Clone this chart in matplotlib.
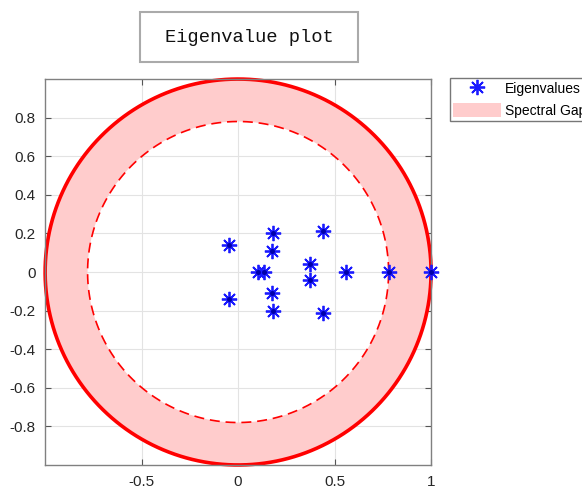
import matplotlib.pyplot as plt
import numpy as np
from matplotlib.patches import Rectangle
from matplotlib.ticker import FuncFormatter

# eigenvalues (real, imag), conjugate pairs listed together
EIG_REAL = [1.0, 0.78, 0.56, 0.375, 0.375, 0.44, 0.44, 0.18, 0.18,
            0.175, 0.175, 0.105, 0.133, -0.045, -0.045]
EIG_IMAG = [0.0, 0.0, 0.0, 0.043, -0.043, 0.21, -0.21, 0.2, -0.2,
            0.107, -0.107, 0.0, 0.0, 0.138, -0.138]

OUTER_RADIUS = 1.0
INNER_RADIUS = 0.78  # second-largest eigenvalue magnitude

X_TICKS = [-0.5, 0, 0.5, 1]
Y_TICKS = [-0.8, -0.6, -0.4, -0.2, 0, 0.2, 0.4, 0.6, 0.8]


def main():
    plt.rcParams["font.family"] = ["Liberation Sans", "DejaVu Sans"]
    fig = plt.figure(figsize=(5.82, 4.91), dpi=100)
    ax = fig.add_axes([0.0756, 0.053, 0.667, 0.786])

    theta = np.linspace(0, 2 * np.pi, 400)
    ox, oy = OUTER_RADIUS * np.cos(theta), OUTER_RADIUS * np.sin(theta)
    ix, iy = INNER_RADIUS * np.cos(theta), INNER_RADIUS * np.sin(theta)

    # annulus between the two circles
    ax.fill(np.concatenate([ox, ix[::-1]]), np.concatenate([oy, iy[::-1]]),
            color="#ffcccc", edgecolor="none", label="Spectral Gap", zorder=1)
    ax.plot(ox, oy, color="#ff0000", linewidth=2.6, zorder=2, clip_on=False)
    ax.plot(ix, iy, color="#ff0000", linewidth=1.2, linestyle=(0, (6, 3.5)), zorder=2)

    ax.plot(EIG_REAL, EIG_IMAG, linestyle="none", marker=(8, 2, 0), markersize=11,
            markeredgewidth=1.3, color="#1a1aff", label="Eigenvalues", zorder=4,
            clip_on=False)
    ax.plot(EIG_REAL, EIG_IMAG, linestyle="none", marker="o", markersize=2.5,
            color="#0000aa", zorder=5, clip_on=False)

    ax.set_xlim(-1, 1)
    ax.set_ylim(-1, 1)
    ax.set_aspect("equal", adjustable="box")
    ax.set_xticks(X_TICKS)
    ax.set_yticks(Y_TICKS)
    fmt = FuncFormatter(lambda v, p: ("%g" % round(v, 2)))
    ax.xaxis.set_major_formatter(fmt)
    ax.yaxis.set_major_formatter(fmt)
    ax.tick_params(direction="in", length=4, color="#555555", labelsize=11,
                   labelcolor="#262626", top=True, right=True, pad=7)
    ax.grid(True, color="#e3e3e3", linewidth=0.8, zorder=0)
    ax.set_axisbelow(True)
    for s in ax.spines.values():
        s.set_color("#808080")
        s.set_linewidth(1.0)

    handles, labels = ax.get_legend_handles_labels()
    order = [labels.index("Eigenvalues"), labels.index("Spectral Gap")]
    fig.legend([handles[i] for i in order], [labels[i] for i in order],
               loc="upper left", bbox_to_anchor=(450 / 582, 1 - 78 / 491),
               fontsize=10, frameon=True, fancybox=False, edgecolor="#555555",
               handlelength=3.4, handleheight=1.1, borderpad=0.25,
               labelspacing=0.55, handletextpad=0.3, borderaxespad=0)

    # boxed title
    fig.patches.append(Rectangle((140 / 582, 1 - 62 / 491), 218 / 582, 50 / 491,
                                 transform=fig.transFigure, facecolor="white",
                                 edgecolor="#aaaaaa", linewidth=1.5))
    fig.text(249 / 582, 1 - 38 / 491, "Eigenvalue plot", ha="center", va="center",
             fontsize=13.5, family=["Liberation Mono", "DejaVu Sans Mono"],
             color="#111111")

    fig.savefig("out.png", dpi=100)


if __name__ == "__main__":
    main()
